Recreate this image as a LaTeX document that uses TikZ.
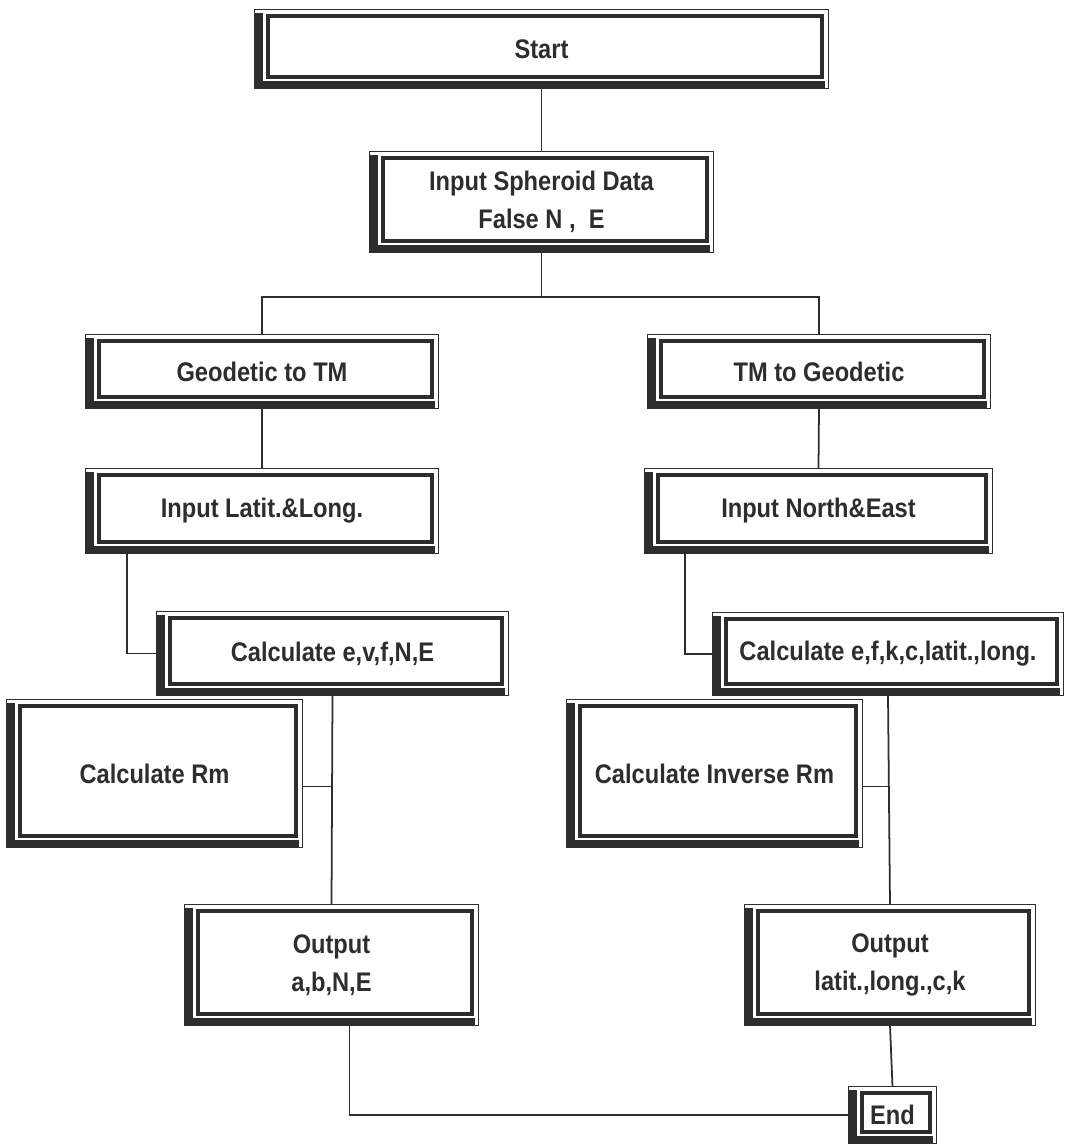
\documentclass[tikz,border=0pt]{standalone}
\usepackage{fontspec}
\newfontfamily\chartfont{Liberation Sans}[FakeStretch=0.88]
\definecolor{ink}{RGB}{45,45,45}
\usetikzlibrary{calc}

\begin{document}
\begin{tikzpicture}[x=0.02cm, y=-0.02cm,
    flowbox/.style={inner sep=0pt, align=center, text=ink,
      font=\chartfont\bfseries\fontsize{15.3}{21.5}\selectfont},
    boxwh/.style 2 args={minimum width=#1*0.02cm, minimum height=#2*0.02cm},
    link/.style={draw=ink, line width=1pt}]
  \useasboundingbox (0,0) rectangle (1065,1147);
  % boxes (centres and sizes in pixels of the scan)
  \node[flowbox, boxwh={573}{78}]  (start)     at (541.5,49)    {Start};
  \node[flowbox, boxwh={343}{100}] (spheroid)  at (541.5,202)   {Input Spheroid Data\\False N ,\ \ E};
  \node[flowbox, boxwh={352}{73}]  (geo)       at (262,371.5)   {Geodetic to TM};
  \node[flowbox, boxwh={342}{73}]  (tm)        at (819,371.5)   {TM to Geodetic};
  \node[flowbox, boxwh={352}{84}]  (latlong)   at (262,511)     {Input Latit.\&Long.};
  \node[flowbox, boxwh={347}{84}]  (northeast) at (818.5,511)   {Input North\&East};
  \node[flowbox, boxwh={351}{83}]  (calcL)     at (332.5,653.5) {Calculate e,v,f,N,E};
  \node[flowbox, boxwh={350}{82}]  (calcR)     at (888,654)     {Calculate e,f,k,c,latit.,long.};
  \node[flowbox, boxwh={295}{147}] (rm)        at (154.5,773.5) {Calculate Rm};
  \node[flowbox, boxwh={295}{147}] (invrm)     at (714.5,773.5) {Calculate Inverse Rm};
  \node[flowbox, boxwh={293}{120}] (outL)      at (331.5,965)   {Output\\a,b,N,E};
  \node[flowbox, boxwh={290}{120}] (outR)      at (890,965)     {Output\\latit.,long.,c,k};
  \node[flowbox, boxwh={87}{56}]   (finish)    at (892.5,1115)  {End};

  % frame, shadow and inner border of every box
  \foreach \n in {start,spheroid,geo,tm,latlong,northeast,calcL,calcR,rm,invrm,outL,outR,finish} {
    \draw[ink, line width=0.9pt] (\n.north west) rectangle (\n.south east);
    \fill[ink] ($(\n.north west)+(0,3)$) rectangle ($(\n.south west)+(8,0)$);
    \fill[ink] ($(\n.south west)+(0,-7)$) rectangle ($(\n.south east)+(-3,0)$);
    \draw[ink, line width=2.2pt] ($(\n.north west)+(13,6)$) rectangle ($(\n.south east)+(-6,-11)$);
  }

  % connectors
  \draw[link] (start.south) -- (spheroid.north);
  \draw[link] (spheroid.south) -- ++(0,45) coordinate (fork);
  \draw[link] (geo.north) |- (fork) -| (tm.north);
  \draw[link] (geo.south) -- (latlong.north);
  \draw[link] (tm.south) -- (northeast.north);
  \draw[link] ($(latlong.south west)+(41,0)$) |- (calcL.west);
  \draw[link] ($(northeast.south west)+(40,0)$) |- (calcR.west);
  \draw[link] (calcL.south) -- (outL.north);
  \draw[link] (calcR.south) -- (outR.north);
  \draw[link] ($(rm.east)+(0,13)$) -- ($(rm.east -| calcL.south)+(0,13)$);
  \draw[link] ($(invrm.east)+(0,13)$) -- ($(invrm.east -| calcR.south)+(0,13)$);
  \draw[link] ($(outL.south)+(18,0)$) |- (finish.west);
  \draw[link] (outR.south) -- (finish.north);
\end{tikzpicture}
\end{document}
